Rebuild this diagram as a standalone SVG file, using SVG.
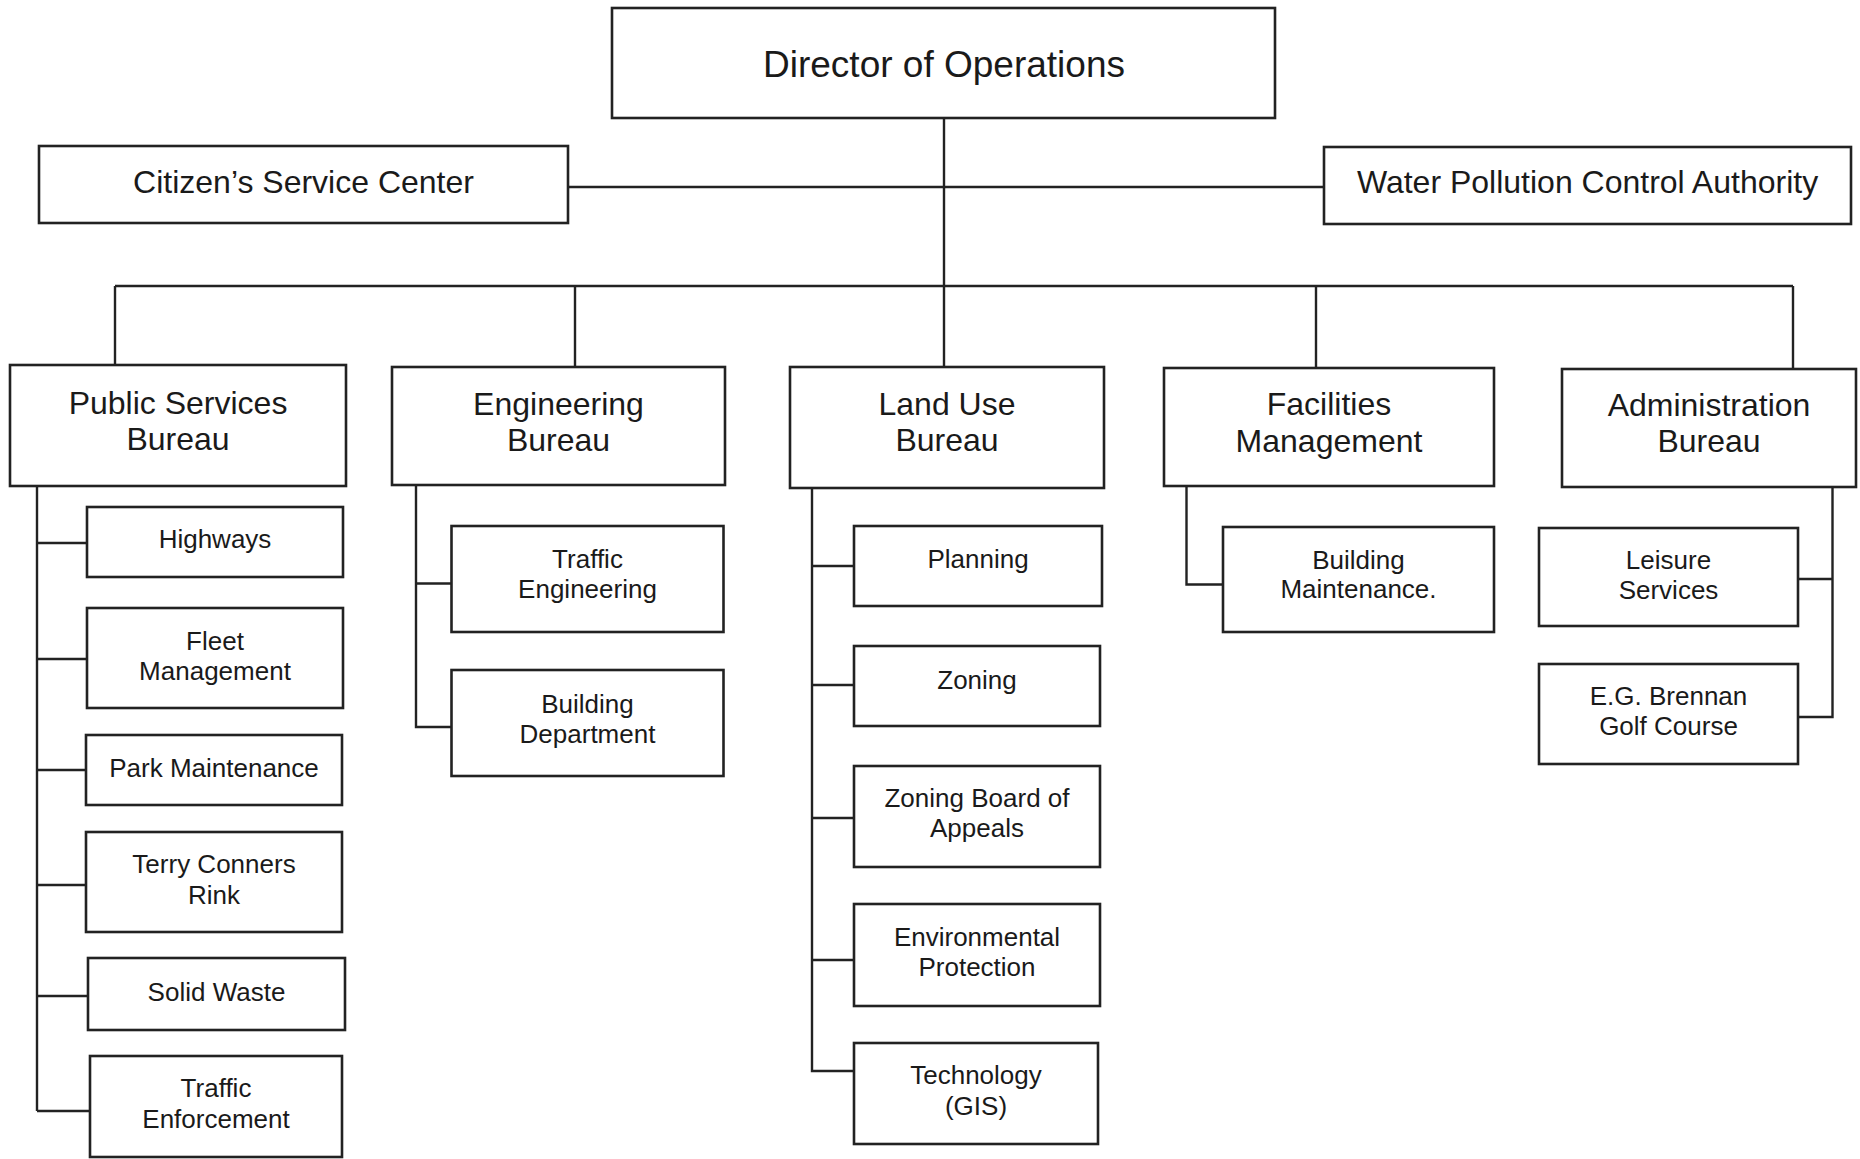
<svg xmlns="http://www.w3.org/2000/svg" width="1860" height="1159" viewBox="0 0 1860 1159">
  <style>
    .box { fill: #ffffff; stroke: #222222; stroke-width: 2.6; }
    .wire { fill: none; stroke: #222222; stroke-width: 2.4; }
    text { font-family: "Liberation Sans", Arial, sans-serif; fill: #1a1a1a; text-anchor: middle; }
    .top { font-size: 37px; }
    .lg { font-size: 32px; }
    .sm { font-size: 26px; }
  </style>
  <rect width="1860" height="1159" fill="#ffffff"/>

  <!-- connectors -->
  <g id="connectors" class="wire">
    <path d="M944 118 V367"/>
    <path d="M568 187 H1324"/>
    <path d="M115 286 H1793"/>
    <path d="M115 286 V365"/>
    <path d="M575 286 V367"/>
    <path d="M1316 286 V368"/>
    <path d="M1793 286 V369"/>
    <!-- Public Services Bureau -->
    <path d="M37 486 V1111"/>
    <path d="M37 543 H87"/>
    <path d="M37 659 H87"/>
    <path d="M37 770 H86"/>
    <path d="M37 885 H86"/>
    <path d="M37 996 H88"/>
    <path d="M37 1111 H90"/>
    <!-- Engineering Bureau -->
    <path d="M416 485 V727 H451.5"/>
    <path d="M416 583.5 H451.5"/>
    <!-- Land Use Bureau -->
    <path d="M812 489 V1071 H854"/>
    <path d="M812 566 H854"/>
    <path d="M812 685 H854"/>
    <path d="M812 818 H854"/>
    <path d="M812 960 H854"/>
    <!-- Facilities Management -->
    <path d="M1186.5 486 V584.5 H1223"/>
    <!-- Administration Bureau -->
    <path d="M1832.5 487 V717 H1798"/>
    <path d="M1832.5 579 H1798"/>
  </g>

  <!-- top level -->
  <g id="director">
    <rect class="box" x="612" y="8" width="663" height="110"/>
    <text class="top" x="944" y="77">Director of Operations</text>
  </g>
  <g id="citizens-service-center">
    <rect class="box" x="39" y="146" width="529" height="77"/>
    <text class="lg" x="303.5" y="193">Citizen’s Service Center</text>
  </g>
  <g id="water-pollution-control">
    <rect class="box" x="1324" y="147" width="527" height="77"/>
    <text class="lg" x="1587.5" y="193">Water Pollution Control Authority</text>
  </g>

  <!-- bureaus -->
  <g id="public-services-bureau">
    <rect class="box" x="10" y="365" width="336" height="121"/>
    <text class="lg" x="178" y="414">Public Services</text>
    <text class="lg" x="178" y="450">Bureau</text>
  </g>
  <g id="engineering-bureau">
    <rect class="box" x="392" y="367" width="333" height="118"/>
    <text class="lg" x="558.5" y="415">Engineering</text>
    <text class="lg" x="558.5" y="451">Bureau</text>
  </g>
  <g id="land-use-bureau">
    <rect class="box" x="790" y="367" width="314" height="121"/>
    <text class="lg" x="947" y="415">Land Use</text>
    <text class="lg" x="947" y="451">Bureau</text>
  </g>
  <g id="facilities-management">
    <rect class="box" x="1164" y="368" width="330" height="118"/>
    <text class="lg" x="1329" y="415">Facilities</text>
    <text class="lg" x="1329" y="452">Management</text>
  </g>
  <g id="administration-bureau">
    <rect class="box" x="1562" y="369" width="294" height="118"/>
    <text class="lg" x="1709" y="416">Administration</text>
    <text class="lg" x="1709" y="452">Bureau</text>
  </g>

  <!-- Public Services units -->
  <g id="highways">
    <rect class="box" x="87" y="507" width="256" height="70"/>
    <text class="sm" x="215" y="548">Highways</text>
  </g>
  <g id="fleet-management">
    <rect class="box" x="87" y="608" width="256" height="100"/>
    <text class="sm" x="215" y="650">Fleet</text>
    <text class="sm" x="215" y="680">Management</text>
  </g>
  <g id="park-maintenance">
    <rect class="box" x="86" y="735" width="256" height="70"/>
    <text class="sm" x="214" y="777">Park Maintenance</text>
  </g>
  <g id="terry-conners-rink">
    <rect class="box" x="86" y="832" width="256" height="100"/>
    <text class="sm" x="214" y="873">Terry Conners</text>
    <text class="sm" x="214" y="904">Rink</text>
  </g>
  <g id="solid-waste">
    <rect class="box" x="88" y="958" width="257" height="72"/>
    <text class="sm" x="216.5" y="1001">Solid Waste</text>
  </g>
  <g id="traffic-enforcement">
    <rect class="box" x="90" y="1056" width="252" height="101"/>
    <text class="sm" x="216" y="1097">Traffic</text>
    <text class="sm" x="216" y="1128">Enforcement</text>
  </g>

  <!-- Engineering units -->
  <g id="traffic-engineering">
    <rect class="box" x="451.5" y="526" width="272" height="106"/>
    <text class="sm" x="587.5" y="568">Traffic</text>
    <text class="sm" x="587.5" y="598">Engineering</text>
  </g>
  <g id="building-department">
    <rect class="box" x="451.5" y="670" width="272" height="106"/>
    <text class="sm" x="587.5" y="712.5">Building</text>
    <text class="sm" x="587.5" y="742.5">Department</text>
  </g>

  <!-- Land Use units -->
  <g id="planning">
    <rect class="box" x="854" y="526" width="248" height="80"/>
    <text class="sm" x="978" y="568">Planning</text>
  </g>
  <g id="zoning">
    <rect class="box" x="854" y="646" width="246" height="80"/>
    <text class="sm" x="977" y="689">Zoning</text>
  </g>
  <g id="zoning-board-of-appeals">
    <rect class="box" x="854" y="766" width="246" height="101"/>
    <text class="sm" x="977" y="807">Zoning Board of</text>
    <text class="sm" x="977" y="837">Appeals</text>
  </g>
  <g id="environmental-protection">
    <rect class="box" x="854" y="904" width="246" height="102"/>
    <text class="sm" x="977" y="945.5">Environmental</text>
    <text class="sm" x="977" y="976">Protection</text>
  </g>
  <g id="technology-gis">
    <rect class="box" x="854" y="1043" width="244" height="101"/>
    <text class="sm" x="976" y="1084">Technology</text>
    <text class="sm" x="976" y="1115">(GIS)</text>
  </g>

  <!-- Facilities units -->
  <g id="building-maintenance">
    <rect class="box" x="1223" y="527" width="271" height="105"/>
    <text class="sm" x="1358.5" y="569">Building</text>
    <text class="sm" x="1358.5" y="598">Maintenance.</text>
  </g>

  <!-- Administration units -->
  <g id="leisure-services">
    <rect class="box" x="1539" y="528" width="259" height="98"/>
    <text class="sm" x="1668.5" y="569">Leisure</text>
    <text class="sm" x="1668.5" y="599">Services</text>
  </g>
  <g id="eg-brennan-golf-course">
    <rect class="box" x="1539" y="664" width="259" height="100"/>
    <text class="sm" x="1668.5" y="705">E.G. Brennan</text>
    <text class="sm" x="1668.5" y="735">Golf Course</text>
  </g>
</svg>
